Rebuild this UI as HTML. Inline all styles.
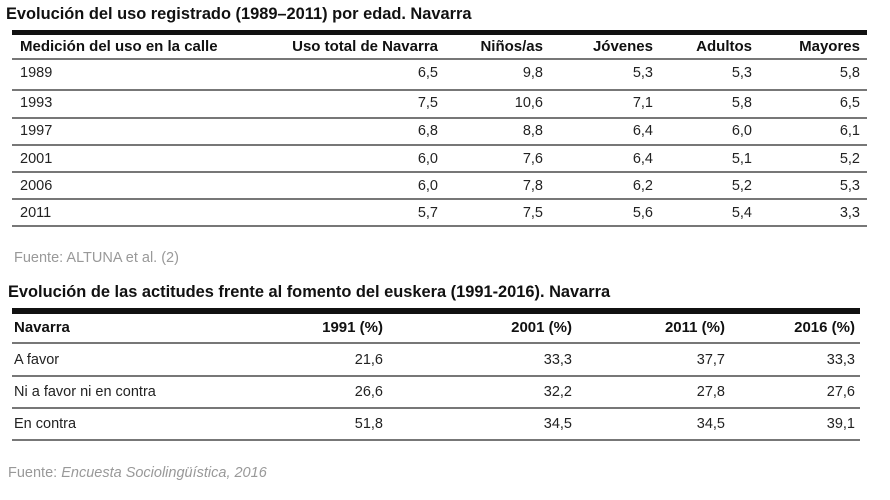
<!DOCTYPE html>
<html><head><meta charset="utf-8"><style>
body{margin:0;width:890px;height:500px;background:#fff;font-family:"Liberation Sans",sans-serif;color:#222;position:relative;overflow:hidden}
.a{position:absolute;white-space:nowrap;font-size:14.5px;line-height:16px}
.b{font-weight:bold;color:#111;font-size:15px}
.t{font-size:16.4px}
.r{text-align:right}
.bar{position:absolute;background:#111}
.ln{position:absolute;background:#777;height:2px}
</style></head><body>
<div class="a b t" style="left:6px;top:6px">Evolución del uso registrado (1989–2011) por edad. Navarra</div>
<div class="bar" style="left:12px;top:30px;width:855px;height:5px"></div>
<div class="a b" style="left:20px;top:39px">Medición del uso en la calle</div>
<div class="a b r" style="right:452px;top:39px">Uso total de Navarra</div>
<div class="a b r" style="right:347px;top:39px">Niños/as</div>
<div class="a b r" style="right:237px;top:39px">Jóvenes</div>
<div class="a b r" style="right:138px;top:39px">Adultos</div>
<div class="a b r" style="right:30px;top:39px">Mayores</div>
<div class="ln" style="left:12px;top:58px;width:855px"></div>
<div class="ln" style="left:12px;top:89px;width:855px"></div>
<div class="ln" style="left:12px;top:117px;width:855px"></div>
<div class="ln" style="left:12px;top:144px;width:855px"></div>
<div class="ln" style="left:12px;top:171px;width:855px"></div>
<div class="ln" style="left:12px;top:198px;width:855px"></div>
<div class="ln" style="left:12px;top:225px;width:855px"></div>

<div class="a" style="left:20px;top:65px">1989</div><div class="a r" style="right:452px;top:65px">6,5</div><div class="a r" style="right:347px;top:65px">9,8</div><div class="a r" style="right:237px;top:65px">5,3</div><div class="a r" style="right:138px;top:65px">5,3</div><div class="a r" style="right:30px;top:65px">5,8</div>
<div class="a" style="left:20px;top:95px">1993</div><div class="a r" style="right:452px;top:95px">7,5</div><div class="a r" style="right:347px;top:95px">10,6</div><div class="a r" style="right:237px;top:95px">7,1</div><div class="a r" style="right:138px;top:95px">5,8</div><div class="a r" style="right:30px;top:95px">6,5</div>
<div class="a" style="left:20px;top:123px">1997</div><div class="a r" style="right:452px;top:123px">6,8</div><div class="a r" style="right:347px;top:123px">8,8</div><div class="a r" style="right:237px;top:123px">6,4</div><div class="a r" style="right:138px;top:123px">6,0</div><div class="a r" style="right:30px;top:123px">6,1</div>
<div class="a" style="left:20px;top:151px">2001</div><div class="a r" style="right:452px;top:151px">6,0</div><div class="a r" style="right:347px;top:151px">7,6</div><div class="a r" style="right:237px;top:151px">6,4</div><div class="a r" style="right:138px;top:151px">5,1</div><div class="a r" style="right:30px;top:151px">5,2</div>
<div class="a" style="left:20px;top:178px">2006</div><div class="a r" style="right:452px;top:178px">6,0</div><div class="a r" style="right:347px;top:178px">7,8</div><div class="a r" style="right:237px;top:178px">6,2</div><div class="a r" style="right:138px;top:178px">5,2</div><div class="a r" style="right:30px;top:178px">5,3</div>
<div class="a" style="left:20px;top:205px">2011</div><div class="a r" style="right:452px;top:205px">5,7</div><div class="a r" style="right:347px;top:205px">7,5</div><div class="a r" style="right:237px;top:205px">5,6</div><div class="a r" style="right:138px;top:205px">5,4</div><div class="a r" style="right:30px;top:205px">3,3</div>

<div class="a" style="left:14px;top:250px;color:#999;font-size:14.5px">Fuente: ALTUNA et al. (2)</div>

<div class="a b t" style="left:8px;top:284px">Evolución de las actitudes frente al fomento del euskera (1991-2016). Navarra</div>
<div class="bar" style="left:12px;top:308px;width:848px;height:6px"></div>
<div class="a b" style="left:14px;top:320px">Navarra</div>
<div class="a b r" style="right:507px;top:320px">1991 (%)</div>
<div class="a b r" style="right:318px;top:320px">2001 (%)</div>
<div class="a b r" style="right:165px;top:320px">2011 (%)</div>
<div class="a b r" style="right:35px;top:320px">2016 (%)</div>
<div class="ln" style="left:12px;top:342px;width:848px"></div>
<div class="ln" style="left:12px;top:375px;width:848px"></div>
<div class="ln" style="left:12px;top:407px;width:848px"></div>
<div class="ln" style="left:12px;top:439px;width:848px"></div>
<div class="a" style="left:14px;top:352px">A favor</div><div class="a r" style="right:507px;top:352px">21,6</div><div class="a r" style="right:318px;top:352px">33,3</div><div class="a r" style="right:165px;top:352px">37,7</div><div class="a r" style="right:35px;top:352px">33,3</div>
<div class="a" style="left:14px;top:384px">Ni a favor ni en contra</div><div class="a r" style="right:507px;top:384px">26,6</div><div class="a r" style="right:318px;top:384px">32,2</div><div class="a r" style="right:165px;top:384px">27,8</div><div class="a r" style="right:35px;top:384px">27,6</div>
<div class="a" style="left:14px;top:416px">En contra</div><div class="a r" style="right:507px;top:416px">51,8</div><div class="a r" style="right:318px;top:416px">34,5</div><div class="a r" style="right:165px;top:416px">34,5</div><div class="a r" style="right:35px;top:416px">39,1</div>

<div class="a" style="left:8px;top:465px;color:#999;font-size:14.5px">Fuente: <i>Encuesta Sociolingüística, 2016</i></div>
</body></html>
